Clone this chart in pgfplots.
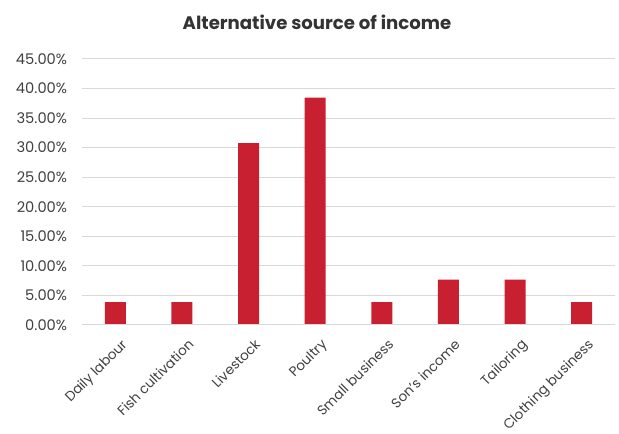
\documentclass[border=0pt]{standalone}
\usepackage{fontspec}
\setmainfont{Poppins}
\usepackage{pgfplots}
\pgfplotsset{compat=1.18}
\definecolor{barred}{RGB}{200,32,48}
\definecolor{gridgray}{RGB}{217,217,217}
\definecolor{txt}{RGB}{64,64,64}
\definecolor{ttl}{RGB}{51,51,51}
\begin{document}
\begin{tikzpicture}
\useasboundingbox (0,0) rectangle (464.25pt,325.5pt);
\node[font=\fontsize{13.6}{15}\selectfont\bfseries, text=ttl] at (237.75pt,309pt) {Alternative source of income};
\begin{axis}[
  at={(61.5pt,81.75pt)}, anchor=south west,
  scale only axis, width=399.75pt, height=199.5pt,
  xmin=-0.5, xmax=7.5, ymin=0, ymax=45,
  ytick={0,5,...,45},
  xtick={0,...,7},
  xticklabels={Daily labour, Fish cultivation, Livestock, Poultry, Small business, Son’s income, Tailoring, Clothing business},
  ymajorgrids, grid style={gridgray, line width=0.75pt},
  axis line style={draw=none},
  axis x line*=bottom, axis y line*=left,
  major tick length=0pt,
  tick style={draw=none},
  /pgf/number format/assume math mode=true,
  yticklabel={\pgfmathprintnumber[fixed,fixed zerofill,precision=2]{\tick}\%},
  ticklabel style={text=txt},
  yticklabel style={font=\fontsize{11}{13}\selectfont, anchor=east, inner sep=0pt, xshift=-11pt},
  xticklabel style={font=\fontsize{10.2}{12}\selectfont, rotate=45, anchor=north east, inner sep=0pt, yshift=-9.5pt, xshift=-4pt},
  clip=false,
]
\addplot[ybar, bar width=15.75pt, fill=barred, draw=none] coordinates {
(0,3.85) (1,3.85) (2,30.77) (3,38.46) (4,3.85) (5,7.69) (6,7.69) (7,3.85)};
\draw[gridgray, line width=0.75pt] (axis cs:-0.5,0) -- (axis cs:7.5,0);
\end{axis}
\end{tikzpicture}
\end{document}
